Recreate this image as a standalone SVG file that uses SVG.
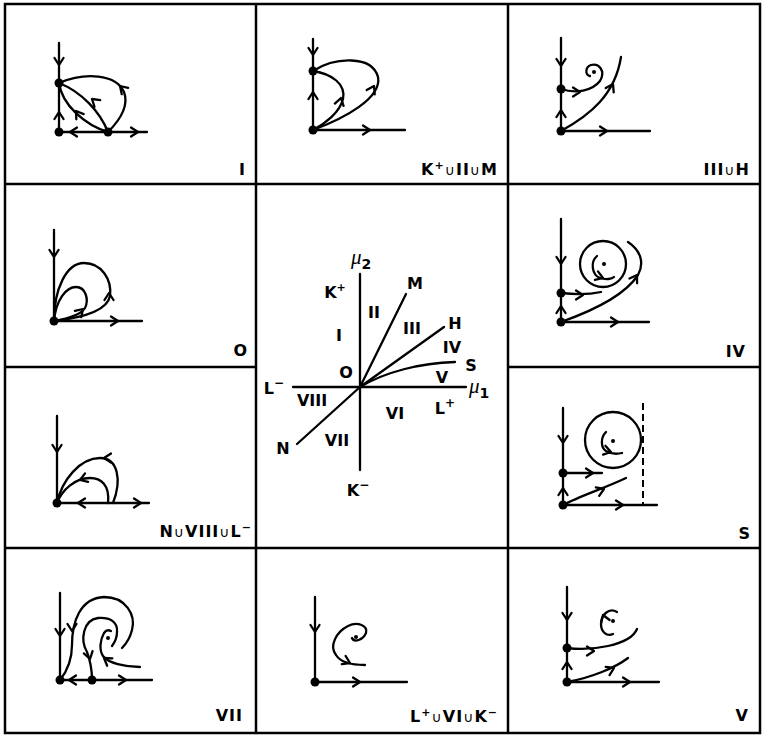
<svg xmlns="http://www.w3.org/2000/svg" xmlns:xlink="http://www.w3.org/1999/xlink" width="764" height="736" viewBox="0 0 764 736">
<style>
.ln{fill:none;stroke:#000;stroke-width:2.3;stroke-linecap:round;stroke-linejoin:round}
.grid{fill:none;stroke:#000;stroke-width:2.5}
.dash{fill:none;stroke:#000;stroke-width:2;stroke-dasharray:7,4}
.dot{fill:#000}
.lab{font-family:"DejaVu Sans","Liberation Sans",sans-serif;font-weight:bold;font-size:16px;letter-spacing:1px;fill:#000}
.cl{font-family:"DejaVu Sans","Liberation Sans",sans-serif;font-weight:bold;font-size:16px;fill:#000}
.mu{font-family:"Liberation Serif","Times New Roman",serif;font-style:italic;font-size:21px;fill:#000}
.sub{font-family:"DejaVu Sans","Liberation Sans",sans-serif;font-style:normal;font-weight:bold;font-size:14px}
.cup{font-weight:normal;font-size:14px}
.sup{font-size:11px}
</style>
<defs>
<path id="ar" d="M-7,-4.5 L0,0 L-7,4.5" fill="none" stroke="#000" stroke-width="2.3" stroke-linecap="round" stroke-linejoin="round"/>
</defs>
<rect width="764" height="736" fill="#fff"/>
<g id="grid">
<rect class="grid" x="5" y="4" width="755" height="729"/>
<line class="grid" x1="256" y1="4" x2="256" y2="733"/>
<line class="grid" x1="508" y1="4" x2="508" y2="733"/>
<line class="grid" x1="5" y1="184" x2="760" y2="184"/>
<line class="grid" x1="5" y1="548" x2="760" y2="548"/>
<line class="grid" x1="5" y1="367" x2="256" y2="367"/>
<line class="grid" x1="508" y1="367" x2="760" y2="367"/>
</g>

<g id="panel-I">
<path class="ln" d="M59,43 V132 H147"/>
<path class="ln" d="M59,83 C85,72 116,74 124,92 C130,108 116,124 108,132"/>
<path class="ln" d="M108,132 C100,112 82,92 59,83"/>
<path class="ln" d="M59,83 C62,105 85,125 108,132"/>
<circle class="dot" cx="59" cy="132" r="4.5"/><circle class="dot" cx="59" cy="83" r="4.5"/><circle class="dot" cx="108" cy="132" r="4.5"/>
<use xlink:href="#ar" transform="translate(59,65) rotate(90)"/>
<use xlink:href="#ar" transform="translate(59,112) rotate(-90)"/>
<use xlink:href="#ar" transform="translate(70,132) rotate(180)"/>
<use xlink:href="#ar" transform="translate(138,132)"/>
<use xlink:href="#ar" transform="translate(120,86) rotate(-135)"/>
<use xlink:href="#ar" transform="translate(92,99) rotate(-140)"/>
<use xlink:href="#ar" transform="translate(76,111) rotate(-125)"/>
<text class="lab" x="246" y="175" text-anchor="end">I</text>
</g>

<g id="panel-KIIM">
<path class="ln" d="M313,39 V130 H405"/>
<path class="ln" d="M313,71 C335,57 372,55 378,77 C382,98 345,118 313,130"/>
<path class="ln" d="M313,71 C332,74 346,84 343,99 C340,112 325,124 313,130"/>
<circle class="dot" cx="313" cy="130" r="4.5"/><circle class="dot" cx="313" cy="71" r="4.5"/>
<use xlink:href="#ar" transform="translate(313,55) rotate(90)"/>
<use xlink:href="#ar" transform="translate(313,92) rotate(-90)"/>
<use xlink:href="#ar" transform="translate(370,130)"/>
<use xlink:href="#ar" transform="translate(374,86) rotate(-62)"/>
<use xlink:href="#ar" transform="translate(341,98) rotate(-75)"/>
<text class="lab" x="498" y="175" text-anchor="end">K<tspan class="sup" dy="-6">+</tspan><tspan class="cup" dy="6">∪</tspan>II<tspan class="cup">∪</tspan>M</text>
</g>

<g id="panel-IIIH">
<path class="ln" d="M561,38 V131 H650"/>
<path class="ln" d="M561,89 C576,94 592,91 600,81 C606,71 599,63 591,65 C585,67 585,75 590,76"/>
<path class="ln" d="M561,131 C590,115 615,95 621,57"/>
<circle class="dot" cx="594" cy="72" r="2"/>
<circle class="dot" cx="561" cy="131" r="4.5"/><circle class="dot" cx="561" cy="89" r="4.5"/>
<use xlink:href="#ar" transform="translate(561,66) rotate(90)"/>
<use xlink:href="#ar" transform="translate(561,110) rotate(-90)"/>
<use xlink:href="#ar" transform="translate(607,131)"/>
<use xlink:href="#ar" transform="translate(580,92)"/>
<use xlink:href="#ar" transform="translate(613,84) rotate(-62)"/>
<text class="lab" x="750" y="175" text-anchor="end">III<tspan class="cup">∪</tspan>H</text>
</g>

<g id="panel-O">
<path class="ln" d="M54,230 V321 H142"/>
<path class="ln" d="M54,321 C54,290 66,263 84,263 C102,263 112,280 110,296 C107,312 80,318 54,321"/>
<path class="ln" d="M54,321 C56,300 66,287 76,287 C86,287 89,300 85,308 C80,316 65,319 54,321"/>
<circle class="dot" cx="54" cy="321" r="4.5"/>
<use xlink:href="#ar" transform="translate(54,257) rotate(90)"/>
<use xlink:href="#ar" transform="translate(118,321)"/>
<use xlink:href="#ar" transform="translate(109,293) rotate(-90)"/>
<use xlink:href="#ar" transform="translate(83,309) rotate(-45)"/>
<text class="lab" x="248" y="356" text-anchor="end">O</text>
</g>

<g id="panel-NVIIIL">
<path class="ln" d="M57,416 V503 H149"/>
<path class="ln" d="M113,503 C122,480 118,458 100,458 C80,458 62,480 57,503"/>
<path class="ln" d="M108,503 C110,485 101,478 90,478 C75,478 62,490 57,503"/>
<circle class="dot" cx="57" cy="503" r="4.5"/>
<use xlink:href="#ar" transform="translate(57,452) rotate(90)"/>
<use xlink:href="#ar" transform="translate(78,503) rotate(180)"/>
<use xlink:href="#ar" transform="translate(141,503)"/>
<use xlink:href="#ar" transform="translate(104,458) rotate(180)"/>
<use xlink:href="#ar" transform="translate(80,480) rotate(160)"/>
<text class="lab" x="252" y="537" text-anchor="end">N<tspan class="cup">∪</tspan>VIII<tspan class="cup">∪</tspan>L<tspan class="sup" dy="-6">−</tspan></text>
</g>

<g id="panel-center">
<path class="ln" d="M360,274 V470"/>
<path class="ln" d="M293,387 H466"/>
<path class="ln" d="M360,387 L406,294"/>
<path class="ln" d="M360,387 L444,327"/>
<path class="ln" d="M360,387 C385,372 420,363 455,362"/>
<path class="ln" d="M360,387 L297,444"/>
<text class="mu" x="351" y="264">μ<tspan class="sub" dy="5">2</tspan></text>
<text class="mu" x="469" y="393">μ<tspan class="sub" dy="5">1</tspan></text>
<text class="cl" x="335" y="298" text-anchor="middle">K<tspan class="sup" dy="-7" font-size="12">+</tspan></text>
<text class="cl" x="374" y="318" text-anchor="middle">II</text>
<text class="cl" x="339" y="341" text-anchor="middle">I</text>
<text class="cl" x="415" y="289" text-anchor="middle">M</text>
<text class="cl" x="412" y="334" text-anchor="middle">III</text>
<text class="cl" x="455" y="329" text-anchor="middle">H</text>
<text class="cl" x="452" y="353" text-anchor="middle">IV</text>
<text class="cl" x="471" y="371" text-anchor="middle">S</text>
<text class="cl" x="442" y="383" text-anchor="middle">V</text>
<text class="cl" x="346" y="378" text-anchor="middle">O</text>
<text class="cl" x="274" y="394" text-anchor="middle">L<tspan dy="-7" font-size="12">−</tspan></text>
<text class="cl" x="312" y="406" text-anchor="middle">VIII</text>
<text class="cl" x="395" y="419" text-anchor="middle">VI</text>
<text class="cl" x="445" y="414" text-anchor="middle">L<tspan dy="-7" font-size="12">+</tspan></text>
<text class="cl" x="283" y="454" text-anchor="middle">N</text>
<text class="cl" x="337" y="446" text-anchor="middle">VII</text>
<text class="cl" x="358" y="496" text-anchor="middle">K<tspan dy="-7" font-size="12">−</tspan></text>
</g>

<g id="panel-IV">
<path class="ln" d="M561,219 V322 H649"/>
<circle class="ln" cx="603" cy="264" r="23"/>
<circle class="dot" cx="604" cy="264" r="2"/>
<path class="ln" d="M597,256 C590,262 592,275 600,278 C606,280 612,279 614,277"/>
<path class="ln" d="M561,293 C578,295 592,294 601,292"/>
<path class="ln" d="M561,322 C595,310 625,295 638,275 C645,262 640,250 628,242"/>
<circle class="dot" cx="561" cy="322" r="4.5"/><circle class="dot" cx="561" cy="293" r="4.5"/>
<use xlink:href="#ar" transform="translate(561,264) rotate(90)"/>
<use xlink:href="#ar" transform="translate(561,306) rotate(-90)"/>
<use xlink:href="#ar" transform="translate(618,322)"/>
<use xlink:href="#ar" transform="translate(583,295)"/>
<use xlink:href="#ar" transform="translate(603,278) rotate(20)"/>
<use xlink:href="#ar" transform="translate(637,275) rotate(-58)"/>
<text class="lab" x="746" y="357" text-anchor="end">IV</text>
</g>

<g id="panel-S">
<path class="ln" d="M563,408 V505 H657"/>
<path class="dash" d="M643,403 V505"/>
<circle class="ln" cx="613" cy="440" r="28"/>
<circle class="dot" cx="613" cy="441" r="2"/>
<path class="ln" d="M606,432 C600,438 601,448 606,451 C611,454 618,454 622,453"/>
<path class="ln" d="M563,473 H602"/>
<path class="ln" d="M563,505 C580,496 605,488 626,478"/>
<circle class="dot" cx="563" cy="505" r="4.5"/><circle class="dot" cx="563" cy="473" r="4.5"/>
<use xlink:href="#ar" transform="translate(563,443) rotate(90)"/>
<use xlink:href="#ar" transform="translate(563,488) rotate(-90)"/>
<use xlink:href="#ar" transform="translate(623,505)"/>
<use xlink:href="#ar" transform="translate(593,473)"/>
<use xlink:href="#ar" transform="translate(611,452) rotate(15)"/>
<use xlink:href="#ar" transform="translate(604,489) rotate(-22)"/>
<text class="lab" x="751" y="539" text-anchor="end">S</text>
</g>

<g id="panel-VII">
<path class="ln" d="M60,593 V680 H152"/>
<path class="ln" d="M60,680 C68,670 72,660 72,645 C72,622 80,598 104,597 C126,597 136,615 132,630 C130,638 126,644 122,648"/>
<path class="ln" d="M92,680 C92,668 90,660 87,652 C80,640 83,620 98,618 C110,617 118,622 117,632 C117,638 115,642 112,646"/>
<path class="ln" d="M140,667 C125,667 108,663 103,656 C99,650 100,640 104,633 C106,630 109,630 111,631"/>
<circle class="dot" cx="108" cy="638" r="2"/>
<circle class="dot" cx="60" cy="680" r="4.5"/><circle class="dot" cx="92" cy="680" r="4.5"/>
<use xlink:href="#ar" transform="translate(60,636) rotate(90)"/>
<use xlink:href="#ar" transform="translate(69,680) rotate(180)"/>
<use xlink:href="#ar" transform="translate(126,680)"/>
<use xlink:href="#ar" transform="translate(72,631) rotate(90)"/>
<use xlink:href="#ar" transform="translate(90,659) rotate(75)"/>
<use xlink:href="#ar" transform="translate(104,658) rotate(-145)"/>
<text class="lab" x="243" y="721" text-anchor="end">VII</text>
</g>

<g id="panel-LVIK">
<path class="ln" d="M315,597 V682 H407"/>
<path class="ln" d="M352,638 C354,643 363,640 366,633 C368,626 358,621 348,626 C336,632 329,646 336,655 C341,663 353,665 365,665"/>
<circle class="dot" cx="356" cy="637" r="2"/>
<circle class="dot" cx="315" cy="682" r="4.5"/>
<use xlink:href="#ar" transform="translate(315,632) rotate(90)"/>
<use xlink:href="#ar" transform="translate(360,682)"/>
<use xlink:href="#ar" transform="translate(350,663) rotate(25)"/>
<text class="lab" x="498" y="722" text-anchor="end">L<tspan class="sup" dy="-6">+</tspan><tspan class="cup" dy="6">∪</tspan>VI<tspan class="cup">∪</tspan>K<tspan class="sup" dy="-6">−</tspan></text>
</g>

<g id="panel-V">
<path class="ln" d="M567,587 V682 H659"/>
<path class="ln" d="M617,612 C609,607 601,615 601,624 C601,632 607,637 613,634"/>
<circle class="dot" cx="613" cy="621" r="2"/>
<path class="ln" d="M567,648 C590,651 630,646 637,629"/>
<path class="ln" d="M567,682 C590,678 615,668 628,658"/>
<circle class="dot" cx="567" cy="682" r="4.5"/><circle class="dot" cx="567" cy="648" r="4.5"/>
<use xlink:href="#ar" transform="translate(567,620) rotate(90)"/>
<use xlink:href="#ar" transform="translate(567,662) rotate(-90)"/>
<use xlink:href="#ar" transform="translate(630,682)"/>
<use xlink:href="#ar" transform="translate(594,651)"/>
<use xlink:href="#ar" transform="translate(603,615) rotate(-110)"/>
<use xlink:href="#ar" transform="translate(614,668) rotate(-25)"/>
<text class="lab" x="749" y="721" text-anchor="end">V</text>
</g>
</svg>
